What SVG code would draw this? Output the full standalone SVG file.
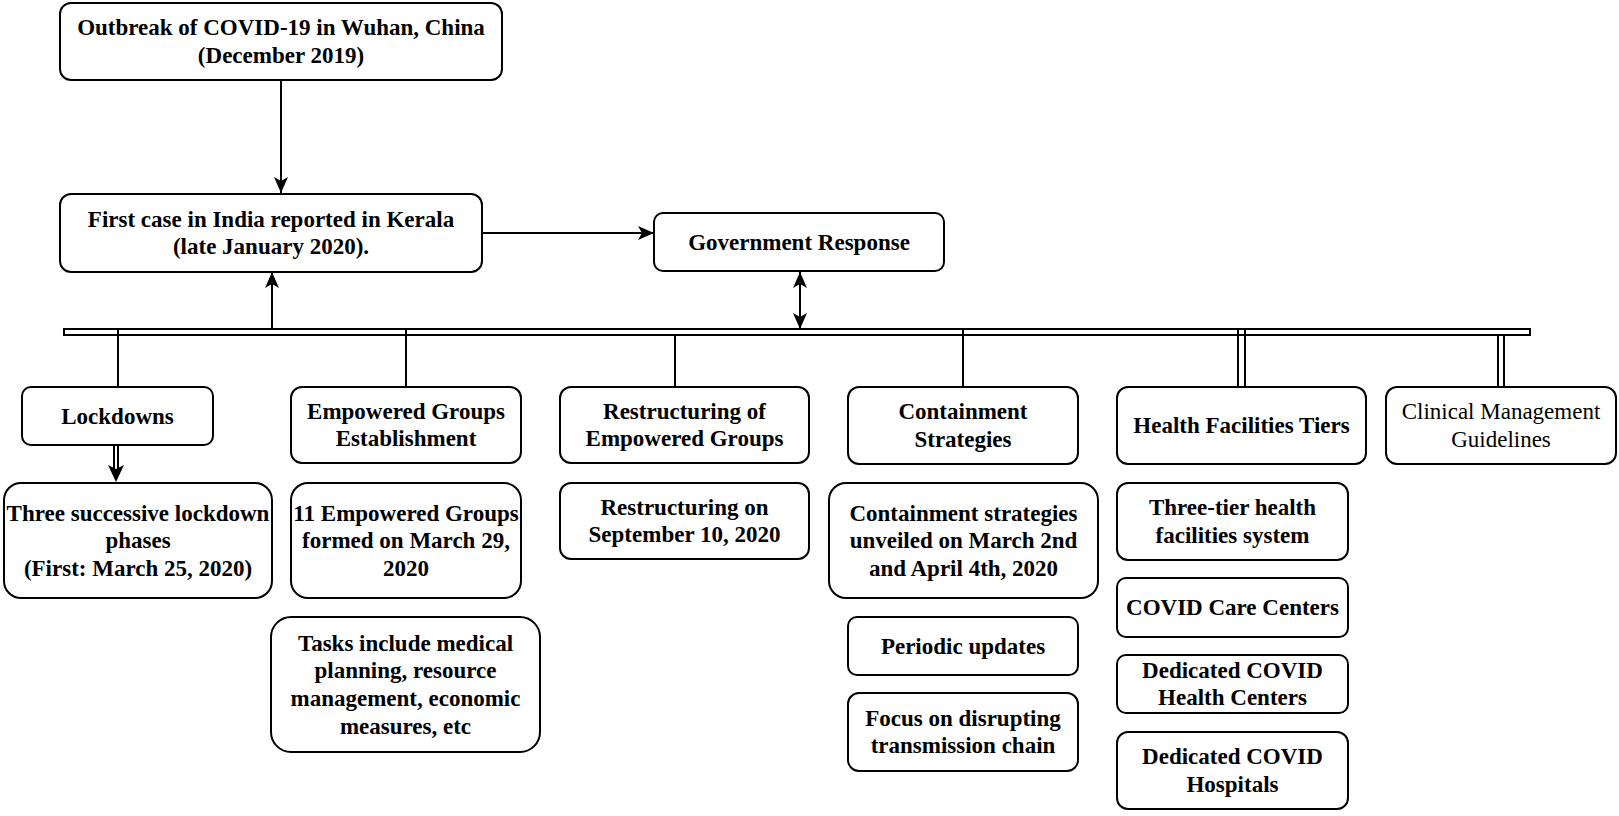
<svg xmlns="http://www.w3.org/2000/svg" width="1619" height="816" viewBox="0 0 1619 816">
<style>
.box{fill:#fff;stroke:#000;stroke-width:2}
.t{font-family:"Liberation Serif","Times New Roman",serif;font-size:23px;font-weight:bold;text-anchor:middle;fill:#000}
.r{font-weight:normal}
.c{stroke:#000;stroke-width:2;fill:none}
</style>
<defs>
<marker id="arr" markerUnits="userSpaceOnUse" markerWidth="16" markerHeight="14" refX="16" refY="7" orient="auto-start-reverse">
<path d="M0,0 L16,7 L0,14 L4,7 Z" fill="#000"/>
</marker>
</defs>
<rect width="1619" height="816" fill="#fff"/>
<g id="connectors">
<line class="c" x1="281" y1="80" x2="281" y2="193" marker-end="url(#arr)"/>
<line class="c" x1="482" y1="233" x2="654" y2="233" marker-end="url(#arr)"/>
<line class="c" x1="272" y1="329" x2="272" y2="272" marker-end="url(#arr)"/>
<line class="c" x1="800" y1="272" x2="800" y2="329" marker-start="url(#arr)" marker-end="url(#arr)"/>
<rect x="64" y="329" width="1466" height="6" fill="#fff" stroke="#000" stroke-width="2"/>
<line class="c" x1="118" y1="330" x2="118" y2="387"/>
<line class="c" x1="406" y1="330" x2="406" y2="387"/>
<line class="c" x1="675" y1="335" x2="675" y2="387"/>
<line class="c" x1="963" y1="330" x2="963" y2="387"/>
<line class="c" x1="1238" y1="330" x2="1238" y2="387"/>
<line class="c" x1="1245" y1="330" x2="1245" y2="387"/>
<line class="c" x1="1498" y1="336" x2="1498" y2="387"/>
<line class="c" x1="1504" y1="336" x2="1504" y2="387"/>
<line class="c" x1="114" y1="445" x2="114" y2="470"/>
<line class="c" x1="118" y1="445" x2="118" y2="470"/>
<path d="M108,465 L116,482 L124,465 L116,469 Z" fill="#000"/>
</g>
<g id="n1"><rect class="box" x="60" y="3" width="442" height="77" rx="11"/>
<text class="t" x="281" y="35.3">Outbreak of COVID-19 in Wuhan, China</text>
<text class="t" x="281" y="62.9">(December 2019)</text></g>
<g id="n2"><rect class="box" x="60" y="194" width="422" height="78" rx="11"/>
<text class="t" x="271" y="226.8">First case in India reported in Kerala</text>
<text class="t" x="271" y="254.4">(late January 2020).</text></g>
<g id="n3"><rect class="box" x="654" y="213" width="290" height="58" rx="9"/>
<text class="t" x="799" y="249.6">Government Response</text></g>
<g id="n4"><rect class="box" x="22" y="387" width="191" height="58" rx="9"/>
<text class="t" x="117.5" y="423.6">Lockdowns</text></g>
<g id="n5"><rect class="box" x="291" y="387" width="230" height="76" rx="11"/>
<text class="t" x="406" y="418.8">Empowered Groups</text>
<text class="t" x="406" y="446.4">Establishment</text></g>
<g id="n6"><rect class="box" x="560" y="387" width="249" height="76" rx="11"/>
<text class="t" x="684.5" y="418.8">Restructuring of</text>
<text class="t" x="684.5" y="446.4">Empowered Groups</text></g>
<g id="n7"><rect class="box" x="848" y="387" width="230" height="77" rx="11"/>
<text class="t" x="963" y="419.3">Containment</text>
<text class="t" x="963" y="446.9">Strategies</text></g>
<g id="n8"><rect class="box" x="1117" y="387" width="249" height="77" rx="11"/>
<text class="t" x="1241.5" y="433.1">Health Facilities Tiers</text></g>
<g id="n9"><rect class="box" x="1386" y="387" width="230" height="77" rx="11"/>
<text class="t r" x="1501" y="419.3">Clinical Management</text>
<text class="t r" x="1501" y="446.9">Guidelines</text></g>
<g id="n10"><rect class="box" x="4" y="483" width="268" height="115" rx="17"/>
<text class="t" x="138" y="520.5">Three successive lockdown</text>
<text class="t" x="138" y="548.1">phases</text>
<text class="t" x="138" y="575.7">(First: March 25, 2020)</text></g>
<g id="n11"><rect class="box" x="291" y="483" width="230" height="115" rx="17"/>
<text class="t" x="406" y="520.5">11 Empowered Groups</text>
<text class="t" x="406" y="548.1">formed on March 29,</text>
<text class="t" x="406" y="575.7">2020</text></g>
<g id="n12"><rect class="box" x="560" y="483" width="249" height="76" rx="11"/>
<text class="t" x="684.5" y="514.8">Restructuring on</text>
<text class="t" x="684.5" y="542.4">September 10, 2020</text></g>
<g id="n13"><rect class="box" x="271" y="617" width="269" height="135" rx="20"/>
<text class="t" x="405.5" y="650.7">Tasks include medical</text>
<text class="t" x="405.5" y="678.3">planning, resource</text>
<text class="t" x="405.5" y="705.9">management, economic</text>
<text class="t" x="405.5" y="733.5">measures, etc</text></g>
<g id="n14"><rect class="box" x="829" y="483" width="269" height="115" rx="17"/>
<text class="t" x="963.5" y="520.5">Containment strategies</text>
<text class="t" x="963.5" y="548.1">unveiled on March 2nd</text>
<text class="t" x="963.5" y="575.7">and April 4th, 2020</text></g>
<g id="n15"><rect class="box" x="848" y="617" width="230" height="58" rx="9"/>
<text class="t" x="963" y="653.6">Periodic updates</text></g>
<g id="n16"><rect class="box" x="848" y="693" width="230" height="78" rx="11"/>
<text class="t" x="963" y="725.8">Focus on disrupting</text>
<text class="t" x="963" y="753.4">transmission chain</text></g>
<g id="n17"><rect class="box" x="1117" y="483" width="231" height="77" rx="11"/>
<text class="t" x="1232.5" y="515.3">Three-tier health</text>
<text class="t" x="1232.5" y="542.9">facilities system</text></g>
<g id="n18"><rect class="box" x="1117" y="578" width="231" height="59" rx="9"/>
<text class="t" x="1232.5" y="615.1">COVID Care Centers</text></g>
<g id="n19"><rect class="box" x="1117" y="655" width="231" height="58" rx="9"/>
<text class="t" x="1232.5" y="677.8">Dedicated COVID</text>
<text class="t" x="1232.5" y="705.4">Health Centers</text></g>
<g id="n20"><rect class="box" x="1117" y="732" width="231" height="77" rx="11"/>
<text class="t" x="1232.5" y="764.3">Dedicated COVID</text>
<text class="t" x="1232.5" y="791.9">Hospitals</text></g>
</svg>
